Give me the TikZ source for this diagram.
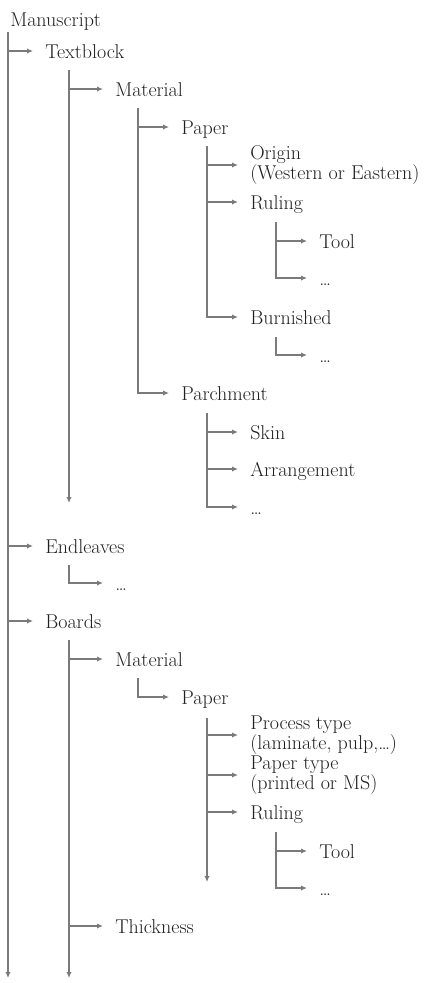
\documentclass[tikz,border=0pt]{standalone}
\usetikzlibrary{arrows.meta}
\definecolor{treegray}{HTML}{7A7A7A}
\begin{document}
\begin{tikzpicture}[x=0.75pt,y=-0.75pt,>={Latex[length=4.5pt,width=4pt]},
	every node/.style={anchor=west,inner sep=0pt,align=left,text=black!88,font=\fontsize{15}{14}\selectfont},
	leaf/.style={text height=13.5pt,text depth=2.5pt},
	branch/.style={draw=treegray,line width=1.3pt,->,shorten >=9pt}]
	\useasboundingbox (0,0) rectangle (433,983);
	\path
	(8,32) coordinate (v0) (8,978) coordinate (e0)
	(69,70) coordinate (v1a) (69,503) coordinate (e1a)
	(138,108) coordinate (v2a)
	(207,146) coordinate (v3a)
	(276,222) coordinate (v4a)
	(276,337) coordinate (v4b)
	(207,413) coordinate (v3b)
	(69,565) coordinate (v1b)
	(69,640) coordinate (v1c) (69,978) coordinate (e1c)
	(138,678) coordinate (v2c)
	(207,718) coordinate (v3c) (207,882) coordinate (e3c)
	(276,832) coordinate (v4c)
	;
	% labels
	\foreach \n/\x/\y/\t in {ms/10/19/Manuscript,tb/45/51/Textblock,tbmat/115/89/Material,tbpap/181/127/Paper,
		rul/250/202/Ruling,tool/319/241/Tool,rdots/319/278/\dots,burn/250/317/Burnished,bdots/319/355/\dots,
		parch/181/393/Parchment,skin/250/432/Skin,arr/250/469/Arrangement,pdots/250/507/\dots,
		endl/45/546/Endleaves,edots/115/583/\dots,brd/45/621/Boards,bmat/115/659/Material,bpap/181/697/Paper,
		brul/250/812/Ruling,btool/319/851/Tool,bdotsb/319/888/\dots,thick/115/926/Thickness}
	\node[leaf] (\n) at (\x,\y) {\t};
	\node (orig) at (250,165) {Origin\\(Western or Eastern)};
	\node (proc) at (250,735) {Process type\\(laminate, pulp,\dots)};
	\node (ptype) at (250,775) {Paper type\\(printed or MS)};
	% connectors
	\foreach \v/\e in {v0/e0,v1a/e1a,v1c/e1c,v3c/e3c}\draw[branch,shorten >=0pt] (\v) -- (\e);
	\foreach \v/\n in {v0/tb,v0/endl,v0/brd,v1a/tbmat,v2a/tbpap,v3a/orig,v3a/rul,v4a/tool,v3b/skin,v3b/arr,
		v1c/bmat,v1c/thick,v3c/proc,v3c/ptype,v3c/brul,v4c/btool}
	\draw[branch] (\v |- \n.west) -- (\n.west);
	\foreach \v/\n in {v2a/parch,v3a/burn,v4a/rdots,v4b/bdots,v3b/pdots,v1b/edots,v2c/bpap,v4c/bdotsb}
	\draw[branch] (\v) |- (\n.west);
\end{tikzpicture}
\end{document}
